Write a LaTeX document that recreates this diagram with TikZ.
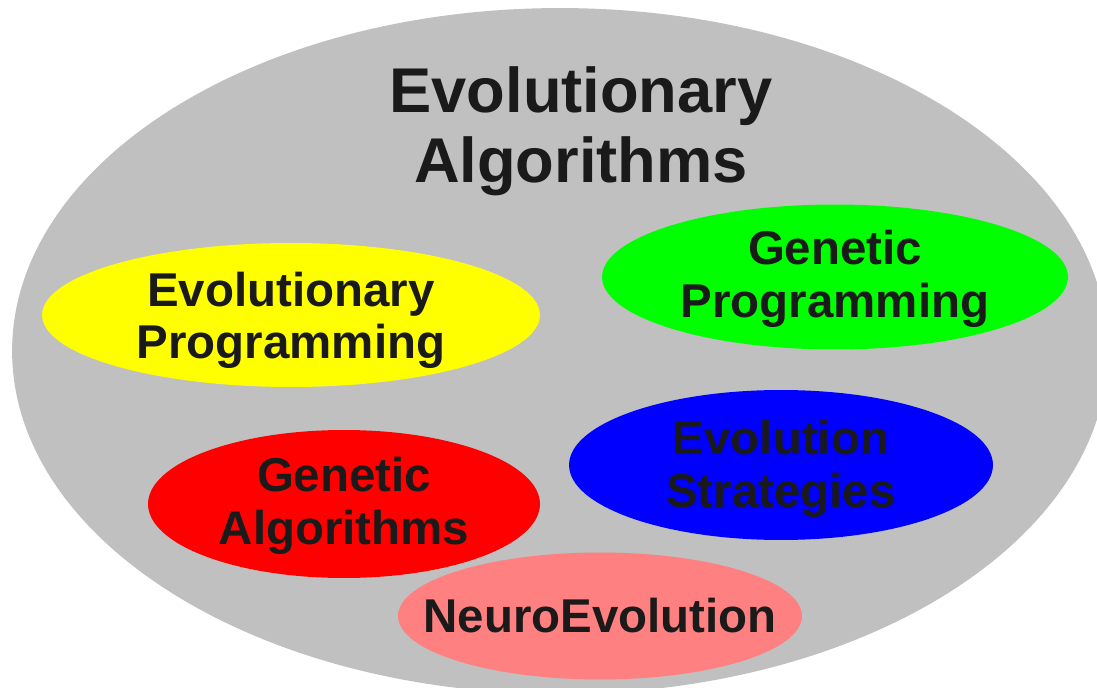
\documentclass[tikz,border=0pt]{standalone}
\usepackage{fontspec}
\setmainfont{Liberation Sans}
\usetikzlibrary{shapes.geometric}
\definecolor{EAGray}{HTML}{C0C0C0}
\definecolor{EAText}{HTML}{1A1A1A}
\definecolor{EAYellow}{HTML}{FFFF00}
\definecolor{EAGreen}{HTML}{00FF00}
\definecolor{EABlue}{HTML}{0000FF}
\definecolor{EARed}{HTML}{FF0000}
\definecolor{EAPink}{HTML}{FF8080}
\tikzset{
  area/.style={ellipse, draw=none, inner sep=0pt},
  areatext/.style={align=center, text=EAText, inner sep=0pt,
    font=\bfseries\fontsize{27}{30}\selectfont},
  title/.style={align=center, text=EAText,
    font=\bfseries\fontsize{36}{40}\selectfont}
}
\begin{document}
\begin{tikzpicture}[x=0.02cm,y=-0.02cm]
  \useasboundingbox (0,0) rectangle (1097,688);
  \clip (0,0) rectangle (1097,688);
  % the whole field
  \node[area, fill=EAGray, minimum width=21.92cm, minimum height=13.72cm] (ea) at (560,351) {};
  \node[title] (eatitle) at (581,131) {Evolutionary\\Algorithms};
  % the branches
  \node[area, fill=EAYellow, minimum width=9.96cm, minimum height=2.88cm] (ep) at (291,315) {};
  \node[areatext] (eptext) at ([yshift=-3pt]ep.center) {Evolutionary\\Programming};
  \node[area, fill=EAGreen, minimum width=9.32cm, minimum height=2.9cm] (gp) at (835,277) {};
  \node[areatext] (gptext) at ([yshift=-1pt]gp.center) {Genetic\\Programming};
  \node[area, fill=EABlue, minimum width=8.48cm, minimum height=3.0cm] (es) at (781,465) {};
  \node[areatext] (estext) at ([yshift=-2pt]es.center) {Evolution\\Strategies};
  \node[area, fill=EARed, minimum width=7.84cm, minimum height=2.96cm] (ga) at (344,504) {};
  \node[areatext] (gatext) at ([yshift=-1pt]ga.center) {Genetic\\Algorithms};
  \node[area, fill=EAPink, minimum width=8.08cm, minimum height=2.54cm] (ne) at (600,616) {};
  \node[areatext] (netext) at (ne.center) {NeuroEvolution};
\end{tikzpicture}
\end{document}
